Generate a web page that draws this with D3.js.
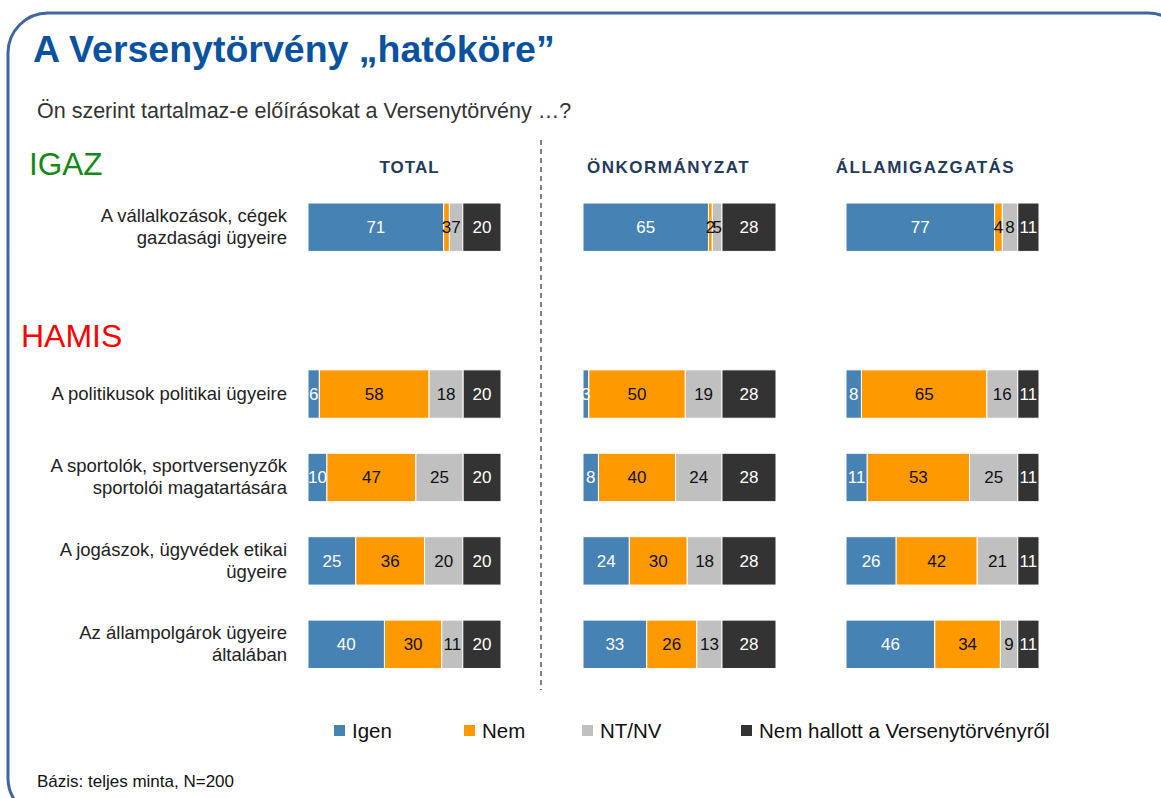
<!DOCTYPE html>
<html>
<head>
<meta charset="utf-8">
<script src="https://cdn.jsdelivr.net/npm/d3@7"></script>
<style>
  body { margin: 0; background: #fff; }
  svg { display: block; font-family: "Liberation Sans", Arial, sans-serif; }
</style>
</head>
<body>
<svg id="chart" width="1161" height="798"></svg>
<script>
// ---- data ----
const categories = [
  ["A vállalkozások, cégek", "gazdasági ügyeire"],
  ["A politikusok politikai ügyeire"],
  ["A sportolók, sportversenyzők", "sportolói magatartására"],
  ["A jogászok, ügyvédek etikai", "ügyeire"],
  ["Az állampolgárok ügyeire", "általában"]
];
const rowKeys = ["r0", "gap", "r1", "r2", "r3", "r4"];
const rowOfCategory = ["r0", "r1", "r2", "r3", "r4"];
const seriesNames = ["Igen", "Nem", "NT/NV", "Nem hallott a Versenytörvényről"];
const panels = ["TOTAL", "ÖNKORMÁNYZAT", "ÁLLAMIGAZGATÁS"];
// values[panel][category] = [Igen, Nem, NT/NV, Nem hallott]
const totalValues = [
  [71, 3, 7, 20],
  [6, 58, 18, 20],
  [10, 47, 25, 20],
  [25, 36, 20, 20],
  [40, 30, 11, 20]
];
const onkormanyzatValues = [
  [65, 2, 5, 28],
  [3, 50, 19, 28],
  [8, 40, 24, 28],
  [24, 30, 18, 28],
  [33, 26, 13, 28]
];
const allamigazgatasValues = [
  [77, 4, 8, 11],
  [8, 65, 16, 11],
  [11, 53, 25, 11],
  [26, 42, 21, 11],
  [46, 34, 9, 11]
];
const panelValues = [totalValues, onkormanyzatValues, allamigazgatasValues];

// ---- styles ----
const colors = ["#4682b4", "#ff9900", "#c0c0c0", "#333333"];
const labelColors = ["#ffffff", "#111111", "#111111", "#ffffff"];
const headerOffset = [5, -11, -17];

const svg = d3.select("#chart");

// frame
svg.append("rect")
  .attr("x", 8).attr("y", 13)
  .attr("width", 1180).attr("height", 805)
  .attr("rx", 40).attr("ry", 40)
  .attr("fill", "none")
  .attr("stroke", "#3e66a0")
  .attr("stroke-width", 3);

// title
svg.append("text")
  .attr("x", 33).attr("y", 62)
  .attr("fill", "#0a52a0")
  .attr("font-size", 37.5).attr("font-weight", "bold")
  .text("A Versenytörvény „hatóköre”");

svg.append("text")
  .attr("x", 37).attr("y", 118)
  .attr("fill", "#333")
  .attr("font-size", 21.5)
  .text("Ön szerint tartalmaz-e előírásokat a Versenytörvény …?");

svg.append("text")
  .attr("x", 29).attr("y", 175)
  .attr("fill", "#138a13").attr("font-size", 31.5)
  .text("IGAZ");
svg.append("text")
  .attr("x", 21).attr("y", 347)
  .attr("fill", "#ff0000").attr("font-size", 32)
  .text("HAMIS");

// scales
const y = d3.scaleBand()
  .domain(rowKeys)
  .range([185.5, 686])
  .paddingInner(0.42)
  .paddingOuter(0.21);

const panelX = d3.scaleOrdinal().domain(panels).range([308, 583, 846]);
const x = d3.scaleLinear().domain([0, 1]).range([0, 193]);

const stack = d3.stack()
  .keys(d3.range(seriesNames.length))
  .value((d, k) => d[k])
  .offset(d3.stackOffsetExpand);

// category labels
categories.forEach((lines, i) => {
  const cy = y(rowOfCategory[i]) + y.bandwidth() / 2;
  const t = svg.append("text")
    .attr("text-anchor", "end")
    .attr("font-size", 18.5)
    .attr("fill", "#222");
  const lh = 22;
  const start = cy - (lines.length - 1) * lh / 2 + 6;
  lines.forEach((ln, j) => {
    t.append("tspan").attr("x", 287).attr("y", start + j * lh).text(ln);
  });
});

// dashed separator
svg.append("line")
  .attr("x1", 541).attr("x2", 541)
  .attr("y1", 140).attr("y2", 690)
  .attr("stroke", "#333").attr("stroke-width", 1.2)
  .attr("stroke-dasharray", "5,4");

// panels
panels.forEach((p, pi) => {
  const g = svg.append("g").attr("transform", `translate(${panelX(p)},0)`);
  g.append("text")
    .attr("x", x(0.5) + headerOffset[pi]).attr("y", 173)
    .attr("text-anchor", "middle")
    .attr("font-size", 17).attr("font-weight", "bold")
    .attr("fill", "#243a5a")
    .attr("letter-spacing", pi === 0 ? 1.0 : 1.5)
    .text(p);

  const rows = panelValues[pi];
  const series = stack(rows);
  series.forEach((s, k) => {
    s.forEach((seg, i) => {
      const yy = y(rowOfCategory[i]);
      g.append("rect")
        .attr("x", x(seg[0]))
        .attr("y", yy)
        .attr("width", Math.max(0, x(seg[1]) - x(seg[0])))
        .attr("height", y.bandwidth())
        .attr("fill", colors[k])
        .attr("stroke", "#fff")
        .attr("stroke-width", 1);
    });
  });
  series.forEach((s, k) => {
    s.forEach((seg, i) => {
      const yy = y(rowOfCategory[i]);
      g.append("text")
        .attr("x", (x(seg[0]) + x(seg[1])) / 2)
        .attr("y", yy + y.bandwidth() / 2 + 6)
        .attr("text-anchor", "middle")
        .attr("font-size", 17)
        .attr("fill", labelColors[k])
        .text(rows[i][k]);
    });
  });
});

// legend
const legendX = [334, 464, 582, 741];
const legend = svg.append("g");
seriesNames.forEach((n, k) => {
  legend.append("rect")
    .attr("x", legendX[k]).attr("y", 725)
    .attr("width", 11).attr("height", 11)
    .attr("fill", colors[k]);
  legend.append("text")
    .attr("x", legendX[k] + 18).attr("y", 738)
    .attr("font-size", 20.5)
    .attr("fill", "#111")
    .text(n);
});

svg.append("text")
  .attr("x", 37).attr("y", 787)
  .attr("font-size", 17).attr("fill", "#111")
  .text("Bázis: teljes minta, N=200");
</script>
</body>
</html>
